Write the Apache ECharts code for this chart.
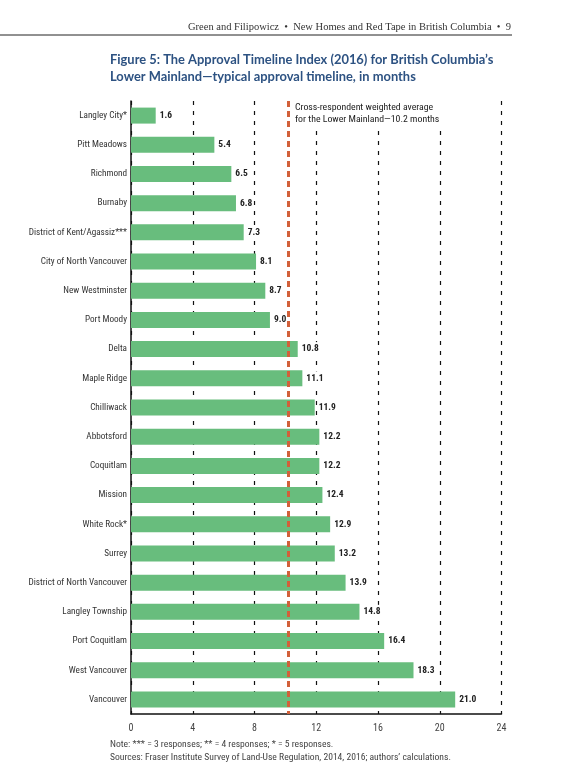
<!DOCTYPE html>
<html>
<head>
<meta charset="utf-8">
<script src="https://cdn.jsdelivr.net/npm/echarts@6/dist/echarts.min.js"></script>
<style>
  html, body { margin: 0; padding: 0; background: #fff; }
  #chart { width: 563px; height: 773px; }
</style>
</head>
<body>
<div id="chart"></div>
<script>
// Datos (meses de aprobacion)
const municipios = [
  'Langley City*', 'Pitt Meadows', 'Richmond', 'Burnaby', 'District of Kent/Agassiz***',
  'City of North Vancouver', 'New Westminster', 'Port Moody', 'Delta', 'Maple Ridge',
  'Chilliwack', 'Abbotsford', 'Coquitlam', 'Mission', 'White Rock*', 'Surrey',
  'District of North Vancouver', 'Langley Township', 'Port Coquitlam', 'West Vancouver', 'Vancouver'
];
const meses = [1.6, 5.4, 6.5, 6.8, 7.3, 8.1, 8.7, 9.0, 10.8, 11.1, 11.9, 12.2, 12.2, 12.4, 12.9, 13.2, 13.9, 14.8, 16.4, 18.3, 21.0];
const promedio = 10.2;
const ticksX = [0, 4, 8, 12, 16, 20, 24];

const fuente = '"Liberation Sans Narrow", "Roboto Condensed", Roboto, sans-serif';

const myChart = echarts.init(document.getElementById('chart'));

const option = {
  animation: false,
  title: [
    {
      text: 'Green and Filipowicz  •  New Homes and Red Tape in British Columbia  •  9',
      right: 52, top: 22, padding: 0,
      textStyle: { fontFamily: '"Liberation Serif", serif', fontSize: 10.5, fontWeight: 'normal', color: '#333' }
    },
    {
      text: 'Figure 5: The Approval Timeline Index (2016) for British Columbia\u2019s\nLower Mainland\u2014typical approval timeline, in months',
      left: 110, top: 51, padding: 0,
      textStyle: { fontFamily: 'Lato, sans-serif', fontSize: 12.9, fontWeight: 'bold', color: '#2d5282', lineHeight: 17 }
    },
    {
      text: 'Note: *** = 3 responses; ** = 4 responses; * = 5 responses.\nSources: Fraser Institute Survey of Land-Use Regulation, 2014, 2016; authors\u2019 calculations.',
      left: 110, top: 738, padding: 0,
      textStyle: { fontFamily: fuente, fontSize: 9.6, fontWeight: 'normal', color: '#444', lineHeight: 13 }
    }
  ],
  graphic: [
    { type: 'line', shape: { x1: 0, y1: 35, x2: 512, y2: 35 }, style: { stroke: '#222', lineWidth: 1 }, z: 10 },
    { type: 'rect', shape: { x: 292, y: 100, width: 152, height: 29 }, style: { fill: '#fff' }, z: 10 },
    {
      type: 'text', left: 295, top: 102, z: 11,
      style: {
        text: 'Cross-respondent weighted average\nfor the Lower Mainland\u201410.2 months',
        font: '9.8px ' + fuente, fill: '#222', lineHeight: 11.5
      }
    }
  ],
  grid: { left: 131, right: 61.5, top: 101, bottom: 59, containLabel: false },
  xAxis: {
    type: 'value', min: 0, max: 24, interval: 4,
    axisLine: { show: true, lineStyle: { color: '#111', width: 1.5 } },
    axisTick: { show: false },
    axisLabel: { fontFamily: fuente, fontSize: 10, color: '#444', margin: 9, formatter: v => ticksX.includes(v) ? v : '' },
    splitLine: { show: true, lineStyle: { color: '#111', width: 1.2, type: [4, 6] } }
  },
  yAxis: {
    type: 'category', data: municipios, inverse: true,
    axisLine: { show: true, lineStyle: { color: '#111', width: 1.5 } },
    axisTick: { show: false },
    axisLabel: { fontFamily: fuente, fontSize: 9.2, color: '#333', margin: 4 }
  },
  series: [{
    type: 'bar',
    data: meses,
    barWidth: 16,
    itemStyle: { color: '#68bd7d' },
    label: {
      show: true, position: 'right', distance: 3,
      fontFamily: fuente, fontSize: 9.5, fontWeight: 'bold', color: '#222',
      backgroundColor: '#fff', padding: [2, 1],
      formatter: p => p.value.toFixed(1)
    },
    markLine: {
      silent: true, symbol: 'none', zlevel: 1,
      label: { show: false },
      lineStyle: { color: '#d2603a', width: 3, type: [6, 4] },
      data: [{ xAxis: promedio }]
    }
  }]
};

myChart.setOption(option);
</script>
</body>
</html>
